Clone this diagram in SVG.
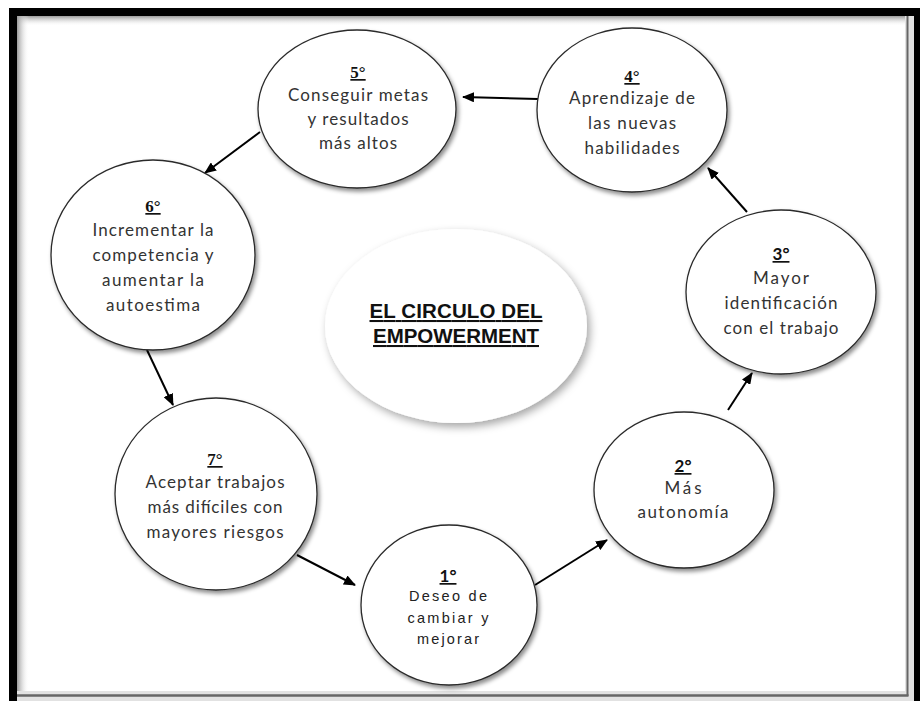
<svg xmlns="http://www.w3.org/2000/svg" width="920" height="701" viewBox="0 0 920 701">
<defs>
<filter id="sh" x="-20%" y="-20%" width="150%" height="150%">
<feDropShadow dx="2" dy="3" stdDeviation="2" flood-color="#000" flood-opacity="0.45"/>
</filter>
<filter id="shc" x="-20%" y="-20%" width="150%" height="150%">
<feDropShadow dx="3" dy="4" stdDeviation="4" flood-color="#000" flood-opacity="0.35"/>
</filter>
<linearGradient id="gt" x1="0" y1="0" x2="0" y2="1">
<stop offset="0" stop-color="#9a9a9a"/>
<stop offset="1" stop-color="#fff" stop-opacity="0"/>
</linearGradient>
<linearGradient id="gl" x1="0" y1="0" x2="1" y2="0">
<stop offset="0" stop-color="#9a9a9a"/>
<stop offset="1" stop-color="#fff" stop-opacity="0"/>
</linearGradient>
<marker id="ah" markerUnits="userSpaceOnUse" markerWidth="12" markerHeight="10" refX="11" refY="5" orient="auto">
<path d="M0,0 L12,5 L0,10 z" fill="#000"/>
</marker>
</defs>
<style>
.node{fill:#fff;stroke:#2a2a2a;stroke-width:1.3;filter:url(#sh)}
.t{font-family:Lato,"Open Sans","Liberation Sans",sans-serif;font-size:17px;fill:#333;text-anchor:middle}
.t1{font-family:"Liberation Sans",Arial,sans-serif;font-size:14.5px;fill:#222;text-anchor:middle}
.n{font-family:"Liberation Serif","Times New Roman",serif;font-size:17px;font-weight:bold;fill:#111;text-anchor:middle;text-decoration:underline}
.ns{font-family:Lato,"Liberation Sans",sans-serif;font-size:17px;font-weight:bold;fill:#111;text-anchor:middle;text-decoration:underline}
.ttl{font-family:"Liberation Sans",Arial,sans-serif;font-size:20.5px;font-weight:bold;fill:#111;text-anchor:middle;text-decoration:underline}
.c{stroke:#000;stroke-width:2;fill:none;marker-end:url(#ah)}
</style>
<g id="frame">
<rect x="0" y="0" width="920" height="701" fill="#fff"/>
<rect x="17" y="16" width="897" height="10" fill="url(#gt)"/>
<rect x="17" y="16" width="12" height="685" fill="url(#gl)"/>
<rect x="905" y="16" width="9" height="685" fill="#e2e2e2"/>
<rect x="17" y="691" width="897" height="10" fill="#e2e2e2"/>
<line x1="907.5" y1="16" x2="907.5" y2="696" stroke="#666" stroke-width="2"/>
<line x1="17" y1="695.5" x2="908.5" y2="695.5" stroke="#666" stroke-width="2.5"/>
<rect x="9" y="8" width="911" height="8" fill="#000"/>
<rect x="9" y="8" width="8" height="693" fill="#000"/>
<rect x="914" y="8" width="6" height="693" fill="#000"/>
</g>
<g id="center">
<ellipse cx="456" cy="326" rx="131" ry="97" fill="#fff" filter="url(#shc)"/>
<text class="ttl" x="456" y="318" textLength="173">EL CIRCULO DEL</text>
<text class="ttl" x="456" y="343" textLength="166">EMPOWERMENT</text>
</g>
<g id="connectors">
<line class="c" x1="535" y1="585" x2="607" y2="540"/>
<line class="c" x1="728" y1="410" x2="752" y2="373"/>
<line class="c" x1="747" y1="212" x2="708" y2="168"/>
<line class="c" x1="538" y1="99" x2="463" y2="97"/>
<line class="c" x1="260" y1="132" x2="205" y2="173"/>
<line class="c" x1="147" y1="350" x2="173" y2="405"/>
<line class="c" x1="297" y1="555" x2="355" y2="585"/>
</g>
<g id="node1">
<ellipse class="node" cx="449" cy="605" rx="88" ry="80"/>
<text class="ns" x="448" y="582">1°</text>
<text class="t1" x="448" y="601" textLength="78">Deseo de</text>
<text class="t1" x="448" y="623" textLength="81">cambiar y</text>
<text class="t1" x="448" y="644" textLength="62">mejorar</text>
</g>
<g id="node2">
<ellipse class="node" cx="684" cy="490" rx="90" ry="78"/>
<text class="ns" x="683" y="472">2°</text>
<text class="t" x="683" y="494" textLength="37">Más</text>
<text class="t" x="683" y="518" textLength="91">autonomía</text>
</g>
<g id="node3">
<ellipse class="node" cx="781" cy="292" rx="95" ry="82"/>
<text class="ns" x="781" y="260">3°</text>
<text class="t" x="781" y="284" textLength="56">Mayor</text>
<text class="t" x="781" y="309" textLength="113">identificación</text>
<text class="t" x="781" y="334" textLength="115">con el trabajo</text>
</g>
<g id="node4">
<ellipse class="node" cx="632" cy="110" rx="95" ry="82"/>
<text class="n" x="632" y="82">4°</text>
<text class="t" x="632" y="104" textLength="126">Aprendizaje de</text>
<text class="t" x="632" y="129" textLength="88">las nuevas</text>
<text class="t" x="632" y="154" textLength="95">habilidades</text>
</g>
<g id="node5">
<ellipse class="node" cx="357" cy="109" rx="99" ry="79"/>
<text class="n" x="358" y="78">5°</text>
<text class="t" x="358" y="101" textLength="140">Conseguir metas</text>
<text class="t" x="358" y="125" textLength="101">y resultados</text>
<text class="t" x="358" y="149" textLength="78">más altos</text>
</g>
<g id="node6">
<ellipse class="node" cx="153" cy="255" rx="102" ry="95"/>
<text class="n" x="153" y="212">6°</text>
<text class="t" x="153" y="236" textLength="121">Incrementar la</text>
<text class="t" x="153" y="261" textLength="121">competencia y</text>
<text class="t" x="153" y="286" textLength="102">aumentar la</text>
<text class="t" x="153" y="311" textLength="94">autoestima</text>
</g>
<g id="node7">
<ellipse class="node" cx="216" cy="494" rx="101" ry="96"/>
<text class="n" x="215" y="465">7°</text>
<text class="t" x="215" y="488" textLength="139">Aceptar trabajos</text>
<text class="t" x="215" y="513" textLength="135">más difíciles con</text>
<text class="t" x="215" y="538" textLength="137">mayores riesgos</text>
</g>
</svg>
